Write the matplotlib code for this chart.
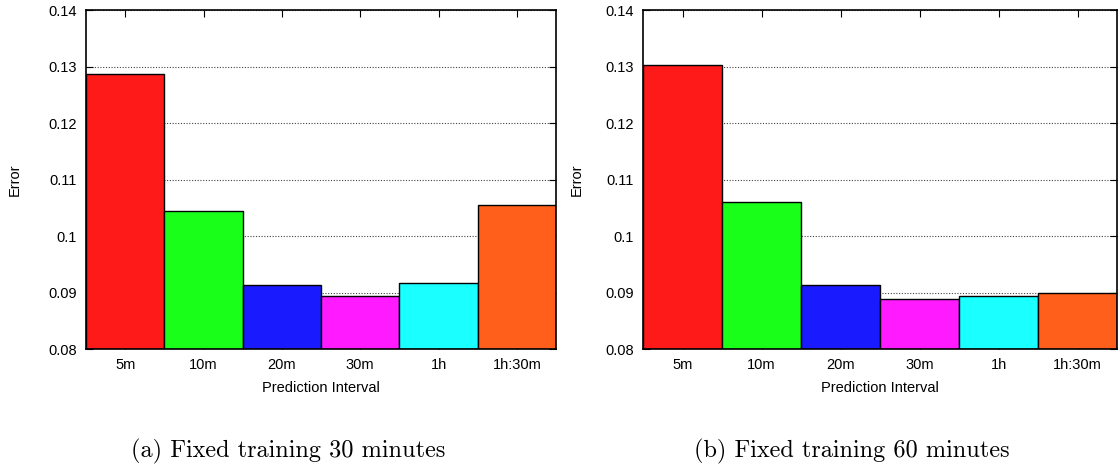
import matplotlib
matplotlib.use("Agg")
import matplotlib.pyplot as plt

categories = ["5m", "10m", "20m", "30m", "1h", "1h:30m"]
err_30 = [0.1286, 0.1045, 0.0913, 0.0893, 0.0916, 0.1054]
err_60 = [0.1303, 0.1060, 0.0914, 0.0888, 0.0893, 0.0899]
colors = ["#ff1a1a", "#1aff1a", "#1a1aff", "#ff1aff", "#1affff", "#ff5f1a"]
yticks = [0.08, 0.09, 0.10, 0.11, 0.12, 0.13, 0.14]
ytick_labels = ["0.08", "0.09", "0.1", "0.11", "0.12", "0.13", "0.14"]
captions = ["(a) Fixed training 30 minutes", "(b) Fixed training 60 minutes"]

plt.rcParams["font.family"] = ["Liberation Sans", "DejaVu Sans"]

W, H = 1119, 471
fig = plt.figure(figsize=(W / 100, H / 100), dpi=100)

panels = [(86, 556), (643, 1117)]
cap_x = [288, 852]
ylab_x = [15, 577]
top, bottom = 10, 349
for (x0, x1), vals, cap, cx, lx in zip(panels, [err_30, err_60], captions, cap_x, ylab_x):
    ax = fig.add_axes([x0 / W, 1 - bottom / H, (x1 - x0) / W, (bottom - top) / H])
    xs = list(range(len(categories)))
    ax.bar(xs, [v - 0.08 for v in vals], bottom=0.08, width=1.0, color=colors,
           edgecolor="black", linewidth=1.0, zorder=3)
    ax.set_xlim(-0.5, len(categories) - 0.5)
    ax.set_ylim(0.08, 0.14)
    ax.set_yticks(yticks)
    ax.set_yticklabels(ytick_labels)
    ax.set_xticks(xs)
    ax.set_xticklabels(categories)
    ax.tick_params(axis="both", direction="in", labelsize=10.5, length=5,
                   top=True, right=True, bottom=True, left=True, pad=6.5)
    ax.yaxis.grid(True, linestyle=(0, (1, 1.5)), color="#444444", linewidth=0.8, zorder=0)
    ax.set_axisbelow(True)
    ax.set_xlabel("Prediction Interval", fontsize=10.5)
    ax.xaxis.set_label_coords(0.5, -(381 - bottom) / (bottom - top))
    ax.set_ylabel("Error", fontsize=10.5, va="center")
    ax.yaxis.set_label_coords((lx - x0) / (x1 - x0), 0.5)
    for s in ax.spines.values():
        s.set_linewidth(1.2)
        s.set_zorder(4)
    fig.text(cx / W, 1 - 451 / H, cap, fontname="cmr10",
             fontsize=17.5, ha="center", va="center")

fig.savefig("out.png", dpi=100)
